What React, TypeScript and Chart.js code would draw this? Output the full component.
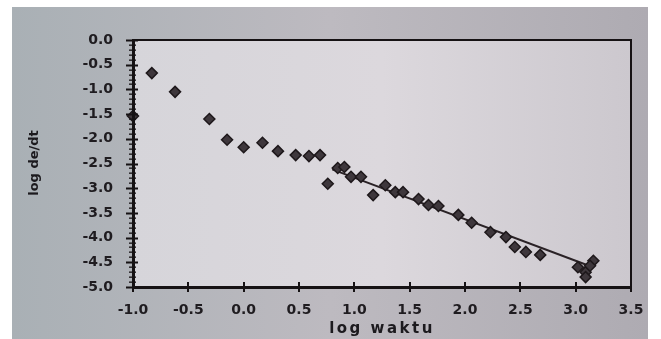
import React, { useEffect, useRef } from "react";
import { Chart, registerables } from "chart.js";

Chart.register(...registerables);

// Scatter observations (log waktu, log de/dt)
const pointX = [-1.0, -0.83, -0.62, -0.31, -0.15, 0.0, 0.17, 0.31, 0.47, 0.59, 0.69, 0.76, 0.85, 0.91, 0.97, 1.06, 1.17, 1.28, 1.37, 1.44, 1.58, 1.67, 1.76, 1.94, 2.06, 2.23, 2.37, 2.45, 2.55, 2.68, 3.02, 3.09, 3.16, 3.13, 3.09];
const pointY = [-1.54, -0.67, -1.05, -1.6, -2.02, -2.17, -2.08, -2.25, -2.33, -2.35, -2.33, -2.91, -2.59, -2.57, -2.77, -2.77, -3.14, -2.94, -3.08, -3.08, -3.22, -3.34, -3.36, -3.54, -3.7, -3.89, -3.99, -4.19, -4.29, -4.35, -4.6, -4.7, -4.47, -4.57, -4.8];

// Fitted line
const fitX = [0.8, 3.12];
const fitY = [-2.62, -4.57];

// Axis tick values
const xTickValues = [-1.0, -0.5, 0.0, 0.5, 1.0, 1.5, 2.0, 2.5, 3.0, 3.5];
const yTickValues = [0.0, -0.5, -1.0, -1.5, -2.0, -2.5, -3.0, -3.5, -4.0, -4.5, -5.0];

const xTitle = "log waktu";
const yTitle = "log de/dt";

const W = 661;
const H = 339;

export default function App() {
  const ref = useRef<HTMLCanvasElement | null>(null);

  useEffect(() => {
    const canvas = ref.current;
    if (!canvas) return;

    const drawAxes = (chart: any) => {
      const ctx = chart.ctx;
      const ca = chart.chartArea;
      const left = Math.round(ca.left);
      const right = Math.round(ca.right);
      const top = Math.round(ca.top);
      const bottom = Math.round(ca.bottom);
      const xs = chart.scales.x;
      const ys = chart.scales.y;
      ctx.save();
      ctx.globalAlpha = 1;
      ctx.fillStyle = "#161214";
      // top and right box lines
      ctx.fillRect(left, top - 1, right - left + 1, 2);
      ctx.fillRect(right - 1, top - 1, 2, bottom - top + 2);
      // left and bottom axes
      ctx.fillRect(left - 1, top - 1, 3, bottom - top + 2);
      ctx.fillRect(left - 1, bottom - 1, right - left + 2, 3);
      // y ticks
      for (let i = 0; i <= 50; i++) {
        const py = Math.round(ys.getPixelForValue(-i / 10));
        const major = i % 5 === 0;
        const l = major ? 7 : 4;
        const r = major ? 5 : 3;
        ctx.fillRect(left - l, py - 0.5, l + r, major ? 2 : 1.3);
      }
      // x ticks
      xTickValues.forEach((v) => {
        const px = Math.round(xs.getPixelForValue(v));
        ctx.fillRect(px - 1, bottom - 5, 2, 10);
      });
      ctx.restore();
    };

    const bgPlugin = {
      id: "paperBg",
      beforeDraw(chart: any) {
        const { ctx, chartArea } = chart;
        ctx.save();
        ctx.fillStyle = "#ffffff";
        ctx.fillRect(0, 0, W, H);
        const g = ctx.createLinearGradient(12, 0, 648, 0);
        g.addColorStop(0, "#a9b0b5");
        g.addColorStop(0.5, "#bdbac0");
        g.addColorStop(1, "#aeabb2");
        ctx.fillStyle = g;
        ctx.fillRect(12, 7, 636, H - 7);
        const g2 = ctx.createLinearGradient(chartArea.left, 0, chartArea.right, 0);
        g2.addColorStop(0, "#d6d5da");
        g2.addColorStop(0.5, "#dcd8dd");
        g2.addColorStop(1, "#ccc8ce");
        ctx.fillStyle = g2;
        ctx.fillRect(chartArea.left, chartArea.top, chartArea.right - chartArea.left, chartArea.bottom - chartArea.top);
        ctx.restore();
      },
      afterDraw(chart: any) {
        drawAxes(chart);
        const { ctx } = chart;
        ctx.save();
        ctx.fillStyle = "#1c1a1e";
        ctx.font = "bold 15px 'DejaVu Sans'";
        ctx.textAlign = "center";
        ctx.textBaseline = "middle";
        (ctx as any).letterSpacing = "2.5px";
        ctx.fillText(xTitle, 382, 329);
        (ctx as any).letterSpacing = "0px";
        ctx.font = "bold 13px 'DejaVu Sans'";
        ctx.translate(35, 163);
        ctx.rotate(-Math.PI / 2);
        ctx.fillText(yTitle, 0, 0);
        ctx.restore();
      },
    };

    const chart = new Chart(canvas, {
      type: "scatter",
      data: {
        datasets: [
          {
            type: "scatter",
            data: pointX.map((x, i) => ({ x, y: pointY[i] })),
            pointStyle: "rectRot",
            pointRadius: 5.5,
            backgroundColor: "#3e373c",
            borderColor: "#1e181b",
            borderWidth: 1.5,
            clip: false,
          } as any,
          {
            type: "line",
            data: fitX.map((x, i) => ({ x, y: fitY[i] })),
            borderColor: "#2a2226",
            borderWidth: 2,
            pointRadius: 0,
            fill: false,
          } as any,
        ],
      },
      options: {
        animation: false,
        responsive: false,
        devicePixelRatio: 1,
        layout: { padding: { left: 0, top: 40, right: 30, bottom: 0 } },
        plugins: { legend: { display: false }, tooltip: { enabled: false } },
        scales: {
          x: {
            type: "linear",
            min: xTickValues[0],
            max: xTickValues[xTickValues.length - 1],
            afterFit(scale: any) {
              scale.height = 52;
            },
            afterBuildTicks(scale: any) {
              scale.ticks = xTickValues.map((v) => ({ value: v }));
            },
            grid: { display: false, drawTicks: false },
            border: { display: false },
            ticks: {
              padding: 15,
              color: "#1f1c20",
              font: { family: "'DejaVu Sans'", size: 14, weight: "bold" },
              callback: (v: any) => Number(v).toFixed(1),
              maxRotation: 0,
              autoSkip: false,
            },
          },
          y: {
            type: "linear",
            min: yTickValues[yTickValues.length - 1],
            max: yTickValues[0],
            afterFit(scale: any) {
              scale.width = 133;
            },
            afterBuildTicks(scale: any) {
              scale.ticks = yTickValues.slice().reverse().map((v) => ({ value: v }));
            },
            grid: { display: false, drawTicks: false },
            border: { display: false },
            ticks: {
              padding: 20,
              color: "#1f1c20",
              font: { family: "'DejaVu Sans'", size: 14, weight: "bold" },
              callback: (v: any) => Number(v).toFixed(1),
              autoSkip: false,
            },
          },
        },
      },
      plugins: [bgPlugin],
    });

    return () => chart.destroy();
  }, []);

  return (
    <div style={{ position: "fixed", left: 0, top: 0, width: W, height: H }}>
      <canvas ref={ref} width={W} height={H} style={{ width: W, height: H, display: "block" }} />
    </div>
  );
}
